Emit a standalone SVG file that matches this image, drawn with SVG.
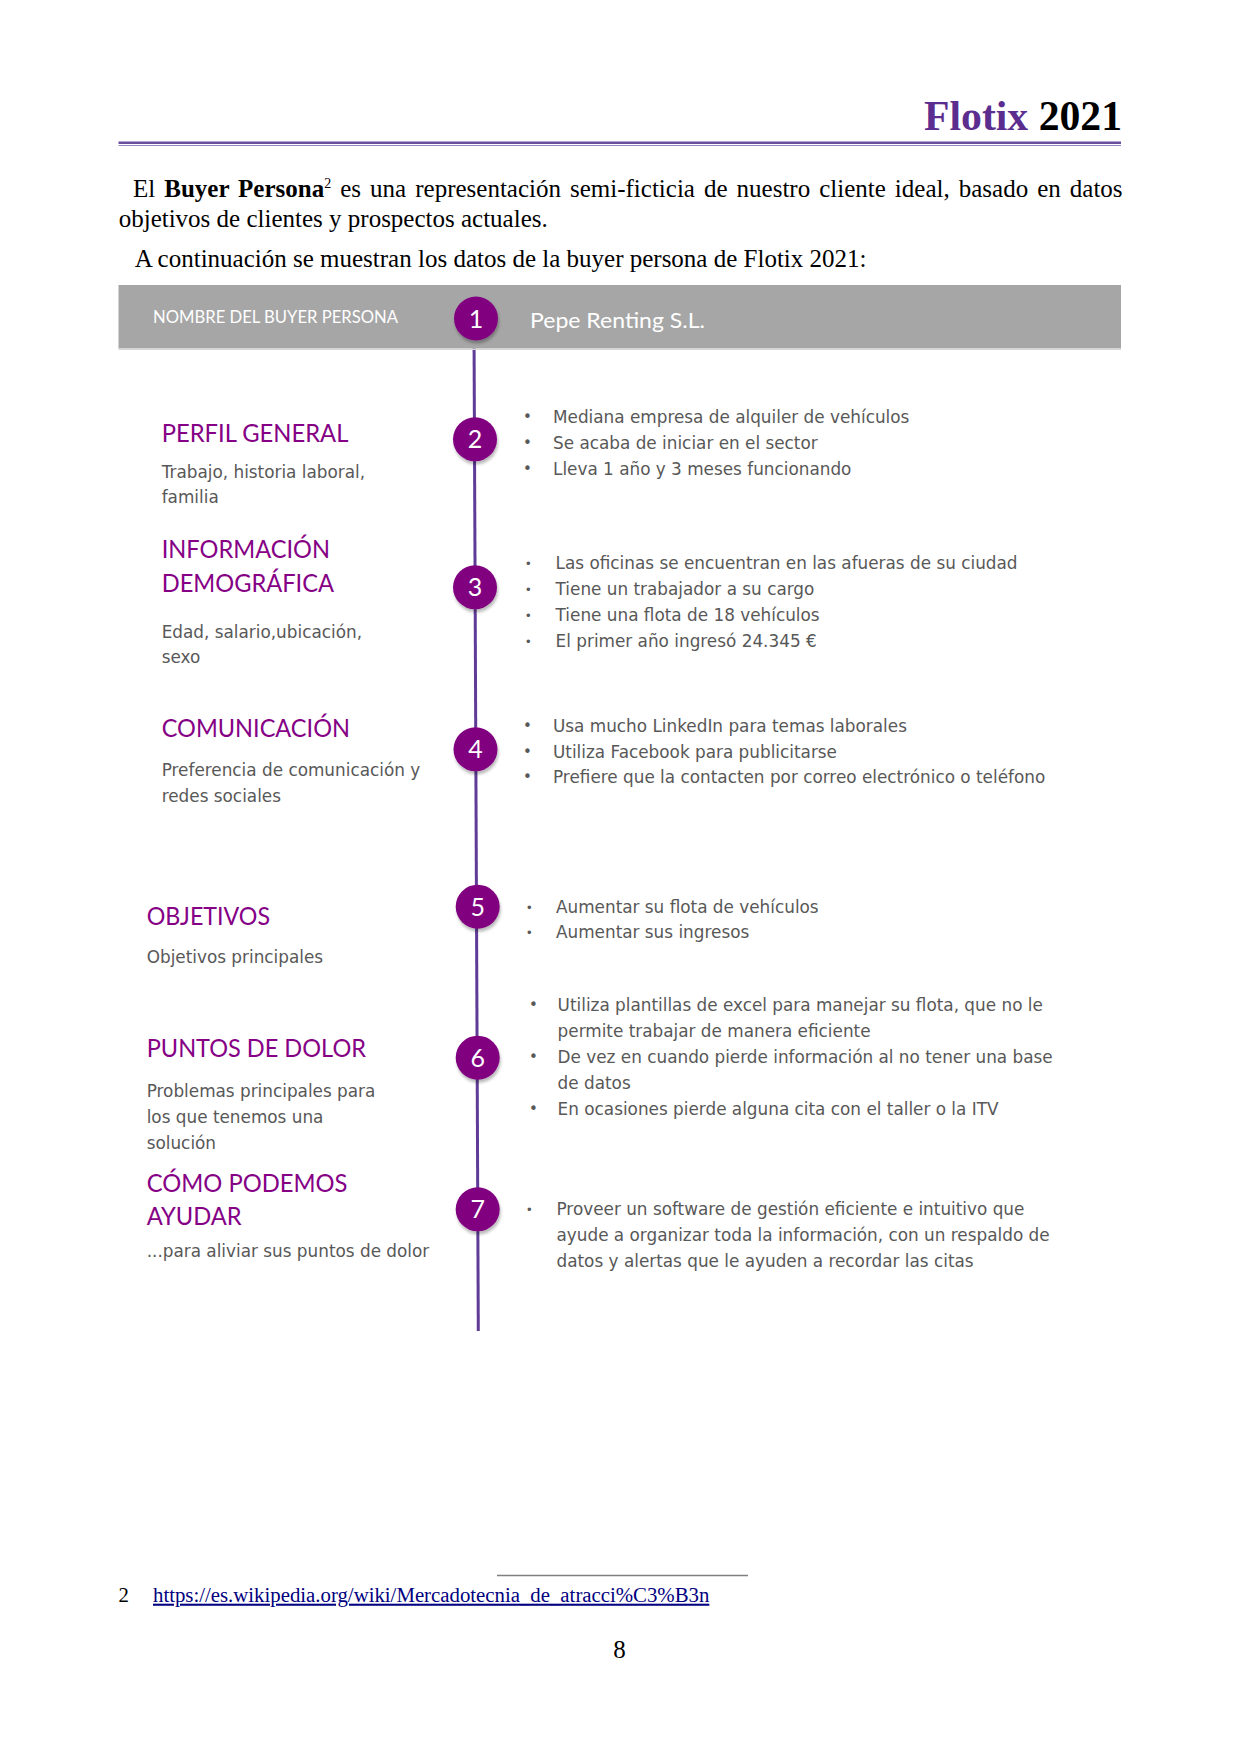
<svg xmlns="http://www.w3.org/2000/svg" width="1240" height="1754" viewBox="0 0 1240 1754">
<defs>
<style>
.h{font-family:Lato,"Open Sans",sans-serif;font-size:24.5px;fill:#850085}
.b{font-family:"DejaVu Sans",sans-serif;font-size:16.85px;fill:#585858}
.bl{font-family:"DejaVu Sans",sans-serif;font-size:15px;fill:#585858}
.bs{font-family:"DejaVu Sans",sans-serif;font-size:12px;fill:#585858}
.n{font-family:Lato,"Open Sans",sans-serif;font-size:25px;fill:#ffffff;text-anchor:middle}
.s{font-family:"Liberation Serif",serif;font-size:25px;fill:#000000}
.dot{fill:#800080;filter:url(#sh)}
</style>
<filter id="sh" x="-40%" y="-40%" width="180%" height="190%"><feDropShadow dx="1" dy="3" stdDeviation="1.5" flood-color="#000" flood-opacity="0.28"/></filter>
</defs>
<rect width="1240" height="1754" fill="#ffffff"/>

<g id="header">
<text x="1122" y="129.5" text-anchor="end" font-family="'Liberation Serif',serif" font-weight="bold" font-size="41.7"><tspan fill="#5b2d8e">Flotix</tspan> 2021</text>
<rect x="118.5" y="141.5" width="1002.5" height="2.5" fill="#6b4f9f"/>
<rect x="118.5" y="145" width="1002.5" height="1" fill="#9a87bf"/>
</g>

<g id="intro">
<text class="s" x="133" y="196.7" word-spacing="2.78">El <tspan font-weight="bold">Buyer Persona</tspan><tspan font-size="14" dy="-9">2</tspan><tspan dy="9"> es una representación semi-ficticia de nuestro cliente ideal, basado en datos</tspan></text>
<text class="s" x="118.7" y="226.7">objetivos de clientes y prospectos actuales.</text>
<text class="s" x="134.7" y="266.7">A continuación se muestran los datos de la buyer persona de Flotix 2021:</text>
</g>

<g id="connectors">
<line x1="474" y1="330" x2="478.3" y2="1331" stroke="#5f3b97" stroke-width="3"/>
</g>

<g id="node1">
<rect x="118.5" y="285" width="1002.5" height="63.5" fill="#a6a6a6"/>
<rect x="118.5" y="348.5" width="1002.5" height="1.5" fill="#d6d6d6"/>
<text x="153" y="323.3" font-family="Lato,'Open Sans',sans-serif" font-size="16.5" fill="#ffffff" textLength="245" lengthAdjust="spacingAndGlyphs">NOMBRE DEL BUYER PERSONA</text>
<circle class="dot" cx="476" cy="318.5" r="22"/>
<text class="n" x="476" y="327.5">1</text>
<text x="530" y="327.7" font-family="Lato,'Open Sans',sans-serif" font-size="22" fill="#ffffff" textLength="175" lengthAdjust="spacingAndGlyphs">Pepe Renting S.L.</text>
</g>

<g id="node2">
<text class="h" x="161.7" y="441.7" textLength="186.7" lengthAdjust="spacingAndGlyphs">PERFIL GENERAL</text>
<text class="b" x="161.7" y="478.3">Trabajo, historia laboral,</text>
<text class="b" x="161.7" y="503.3">familia</text>
<circle class="dot" cx="475" cy="439.3" r="22"/>
<text class="n" x="475" y="448.3">2</text>
<text class="bl" x="523" y="421.5">•</text><text class="b" x="553" y="422.7">Mediana empresa de alquiler de vehículos</text>
<text class="bl" x="523" y="447.5">•</text><text class="b" x="553" y="448.7">Se acaba de iniciar en el sector</text>
<text class="bl" x="523" y="473.5">•</text><text class="b" x="553" y="474.7">Lleva 1 año y 3 meses funcionando</text>
</g>

<g id="node3">
<text class="h" x="161.7" y="558.3" textLength="168.3" lengthAdjust="spacingAndGlyphs">INFORMACIÓN</text>
<text class="h" x="161.7" y="591.7" textLength="172.3" lengthAdjust="spacingAndGlyphs">DEMOGRÁFICA</text>
<text class="b" x="161.7" y="637.7">Edad, salario,ubicación,</text>
<text class="b" x="161.7" y="663.3">sexo</text>
<circle class="dot" cx="475" cy="587.3" r="22"/>
<text class="n" x="475" y="596.3">3</text>
<text class="bs" x="524.8" y="568.3">•</text><text class="b" x="555.6" y="569.3">Las oficinas se encuentran en las afueras de su ciudad</text>
<text class="bs" x="524.8" y="594.3">•</text><text class="b" x="555.6" y="595.3">Tiene un trabajador a su cargo</text>
<text class="bs" x="524.8" y="620.3">•</text><text class="b" x="555.6" y="621.3">Tiene una flota de 18 vehículos</text>
<text class="bs" x="524.8" y="646.3">•</text><text class="b" x="555.6" y="647.3">El primer año ingresó 24.345 €</text>
</g>

<g id="node4">
<text class="h" x="161.7" y="736.7" textLength="188.3" lengthAdjust="spacingAndGlyphs">COMUNICACIÓN</text>
<text class="b" x="161.7" y="776">Preferencia de comunicación y</text>
<text class="b" x="161.7" y="801.7">redes sociales</text>
<circle class="dot" cx="475.5" cy="749.3" r="22"/>
<text class="n" x="475.5" y="758.3">4</text>
<text class="bl" x="523" y="730.5">•</text><text class="b" x="553" y="731.7">Usa mucho LinkedIn para temas laborales</text>
<text class="bl" x="523" y="756.5">•</text><text class="b" x="553" y="757.7">Utiliza Facebook para publicitarse</text>
<text class="bl" x="523" y="782.1">•</text><text class="b" x="553" y="783.3">Prefiere que la contacten por correo electrónico o teléfono</text>
</g>

<g id="node5">
<text class="h" x="146.7" y="925" textLength="123.3" lengthAdjust="spacingAndGlyphs">OBJETIVOS</text>
<text class="b" x="146.7" y="962.7">Objetivos principales</text>
<circle class="dot" cx="477.7" cy="906.7" r="22"/>
<text class="n" x="477.7" y="915.7">5</text>
<text class="bs" x="525.7" y="911.7">•</text><text class="b" x="556" y="912.7">Aumentar su flota de vehículos</text>
<text class="bs" x="525.7" y="937.3">•</text><text class="b" x="556" y="938.3">Aumentar sus ingresos</text>
</g>

<g id="node6">
<text class="h" x="146.7" y="1056.7" textLength="219.3" lengthAdjust="spacingAndGlyphs">PUNTOS DE DOLOR</text>
<text class="b" x="146.7" y="1097.3">Problemas principales para</text>
<text class="b" x="146.7" y="1123.3">los que tenemos una</text>
<text class="b" x="146.7" y="1149.3">solución</text>
<circle class="dot" cx="477.7" cy="1057.7" r="22"/>
<text class="n" x="477.7" y="1066.7">6</text>
<text class="bl" x="529" y="1009.5">•</text><text class="b" x="557.6" y="1010.7">Utiliza plantillas de excel para manejar su flota, que no le</text>
<text class="b" x="557.6" y="1036.7">permite trabajar de manera eficiente</text>
<text class="bl" x="529" y="1061.5">•</text><text class="b" x="557.6" y="1062.7">De vez en cuando pierde información al no tener una base</text>
<text class="b" x="557.6" y="1088.7">de datos</text>
<text class="bl" x="529" y="1113.5">•</text><text class="b" x="557.6" y="1114.7">En ocasiones pierde alguna cita con el taller o la ITV</text>
</g>

<g id="node7">
<text class="h" x="146.7" y="1191.7" textLength="200.7" lengthAdjust="spacingAndGlyphs">CÓMO PODEMOS</text>
<text class="h" x="146.7" y="1225" textLength="95" lengthAdjust="spacingAndGlyphs">AYUDAR</text>
<text class="b" x="146.7" y="1256.7">...para aliviar sus puntos de dolor</text>
<circle class="dot" cx="477.7" cy="1209.3" r="22"/>
<text class="n" x="477.7" y="1218.3">7</text>
<text class="bs" x="525.8" y="1214">•</text><text class="b" x="556.5" y="1215">Proveer un software de gestión eficiente e intuitivo que</text>
<text class="b" x="556.5" y="1241">ayude a organizar toda la información, con un respaldo de</text>
<text class="b" x="556.5" y="1267.3">datos y alertas que le ayuden a recordar las citas</text>
</g>

<g id="footer">
<line x1="497" y1="1575.5" x2="748" y2="1575.5" stroke="#7f7f7f" stroke-width="1.5"/>
<text x="118.5" y="1601.7" font-family="'Liberation Serif',serif" font-size="20.8" fill="#000">2</text>
<text x="153" y="1601.7" font-family="'Liberation Serif',serif" font-size="20.8" fill="#000080" text-decoration="underline">https://es.wikipedia.org/wiki/Mercadotecnia_de_atracci%C3%B3n</text>
<text x="619.5" y="1658" text-anchor="middle" font-family="'Liberation Serif',serif" font-size="25" fill="#000">8</text>
</g>
</svg>
